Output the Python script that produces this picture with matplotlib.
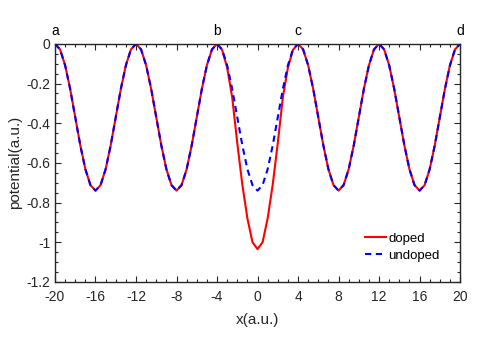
import numpy as np
import matplotlib
matplotlib.use("Agg")
import matplotlib.pyplot as plt
from matplotlib.ticker import MultipleLocator

plt.rcParams['font.family'] = ['Liberation Sans', 'DejaVu Sans']
plt.rcParams['axes.unicode_minus'] = False

# sample grid, step 0.5 from -20 to 20
x = np.arange(-20, 20.5, 0.5)

# one period of the lattice potential (8 a.u.)
period = [0, -0.028, -0.108, -0.228, -0.370, -0.512, -0.632, -0.712,
          -0.740, -0.712, -0.632, -0.512, -0.370, -0.228, -0.108, -0.028]
undoped = period * 5 + [0]

# doped: deeper well in the central cell (-4..4)
center_doped = [0, -0.03, -0.12, -0.27, -0.50, -0.71, -0.88, -1.00,
                -1.035, -1.00, -0.88, -0.71, -0.50, -0.27, -0.12, -0.03, 0]
doped = period * 2 + center_doped + period[1:] + period + [0]

xticks = [-20, -16, -12, -8, -4, 0, 4, 8, 12, 16, 20]
yticks = [0, -0.2, -0.4, -0.6, -0.8, -1, -1.2]
ytick_labels = ['0', '-0.2', '-0.4', '-0.6', '-0.8', '-1', '-1.2']
point_labels = ['a', 'b', 'c', 'd']
point_x = [-20, -4, 4, 20]

fig = plt.figure(figsize=(4.91, 3.51), dpi=100)
ax = fig.add_axes([0.112, 0.197, 0.825, 0.678])

ax.plot(x, doped, '-', color='red', lw=1.5, label='doped')
ax.plot(x, undoped, '--', color='blue', lw=1.5, dashes=(3, 2.2), label='undoped')

ax.set_xlim(-20, 20)
ax.set_ylim(-1.2, 0)
ax.set_xticks(xticks)
ax.set_xticklabels([str(t) for t in xticks])
ax.set_yticks(yticks)
ax.set_yticklabels(ytick_labels)
ax.xaxis.set_minor_locator(MultipleLocator(1))
ax.yaxis.set_minor_locator(MultipleLocator(0.05))
ax.tick_params(which='both', direction='in', top=True, right=True, labelsize=10,
               color='#262626', labelcolor='#262626')
ax.tick_params(axis='x', which='major', pad=6)
ax.tick_params(which='major', length=4.5, width=0.8)
ax.tick_params(which='minor', length=2.2, width=0.8)
for s in ax.spines.values():
    s.set_linewidth(1.0)
    s.set_color('#262626')

ax.set_xlabel('x(a.u.)', fontsize=11, color='#262626', labelpad=6)
ax.set_ylabel('potential(a.u.)', fontsize=11, color='#262626', labelpad=3)

for lab, px in zip(point_labels, point_x):
    ax.text(px, 0.03, lab, ha='center', va='bottom', fontsize=10, color='black')

ax.legend(loc='upper left', frameon=False, fontsize=9.5, handlelength=1.6,
          handletextpad=0.2, bbox_to_anchor=(0.765, 0.208), borderpad=0,
          borderaxespad=0, labelspacing=0.4)

fig.savefig('out.png', dpi=100)
